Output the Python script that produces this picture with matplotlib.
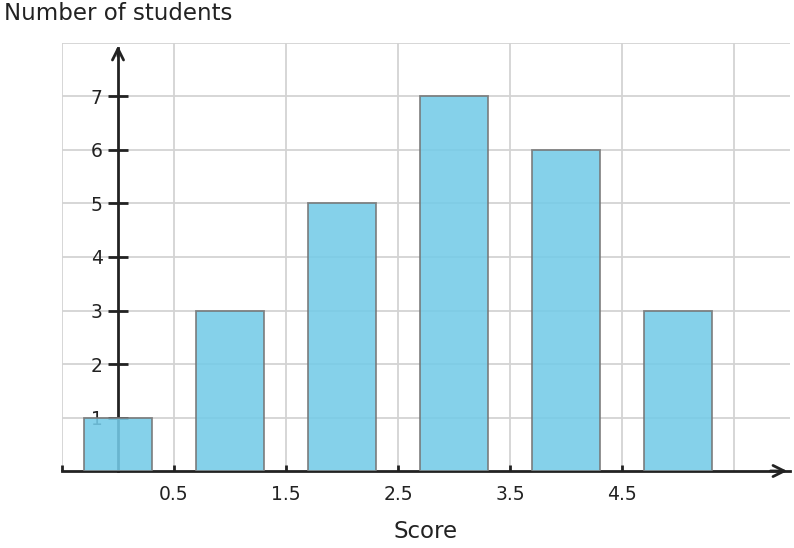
import matplotlib.pyplot as plt

# datos
scores = [0, 1, 2, 3, 4, 5]
students = [1, 3, 5, 7, 6, 3]
xticks = [-0.5, 0.5, 1.5, 2.5, 3.5, 4.5]
xticklabels = ["", "0.5", "1.5", "2.5", "3.5", "4.5"]
yticks = [1, 2, 3, 4, 5, 6, 7]

fig = plt.figure(figsize=(7.94, 5.48), dpi=100)
ax = fig.add_axes([62 / 794, 77 / 548, 728 / 794, 428 / 548])

ax.set_xlim(-0.5, 6.0)
ax.set_ylim(0, 8)

# grelha
for gx in [-0.5, 0.5, 1.5, 2.5, 3.5, 4.5, 5.5]:
    ax.axvline(gx, color="#d3d3d3", lw=1.3, zorder=0)
for gy in range(1, 9):
    ax.axhline(gy, color="#d3d3d3", lw=1.3, zorder=0)

# barras
ax.bar(scores, students, width=0.6, color="#74cbe8", alpha=0.88,
       edgecolor="#777777", linewidth=1.3, zorder=5)

# eixos
for s in ["top", "right"]:
    ax.spines[s].set_visible(False)
ax.spines["left"].set_position(("data", 0))
ax.spines["bottom"].set_position(("data", 0))
ax.spines["left"].set_color("#222222")
ax.spines["bottom"].set_color("#222222")
ax.spines["left"].set_linewidth(2)
ax.spines["bottom"].set_linewidth(2)
ax.spines["left"].set_bounds(0, 7.9)

ax.annotate("", xy=(6.0, 0), xytext=(5.8, 0),
            arrowprops=dict(arrowstyle="->", color="#222222", lw=2, mutation_scale=20), zorder=6)
ax.annotate("", xy=(0, 8.0), xytext=(0, 7.7),
            arrowprops=dict(arrowstyle="->", color="#222222", lw=2, mutation_scale=20), zorder=6)

ax.set_xticks(xticks)
ax.set_xticklabels(xticklabels)
ax.set_yticks(yticks)
ax.tick_params(axis="x", direction="in", length=4.5, width=2, color="#222222",
               labelsize=13.5, labelcolor="#222222", pad=10)
ax.tick_params(axis="y", direction="inout", length=14, width=2, color="#222222",
               labelsize=13.5, labelcolor="#222222", pad=4)

fig.text(4 / 794, 1 - 13 / 548, "Number of students", fontsize=16.5,
         color="#222222", va="center", ha="left")
fig.text(426 / 794, 1 - 531 / 548, "Score", fontsize=16.5,
         color="#222222", va="center", ha="center")

fig.savefig("out.png", dpi=100)
